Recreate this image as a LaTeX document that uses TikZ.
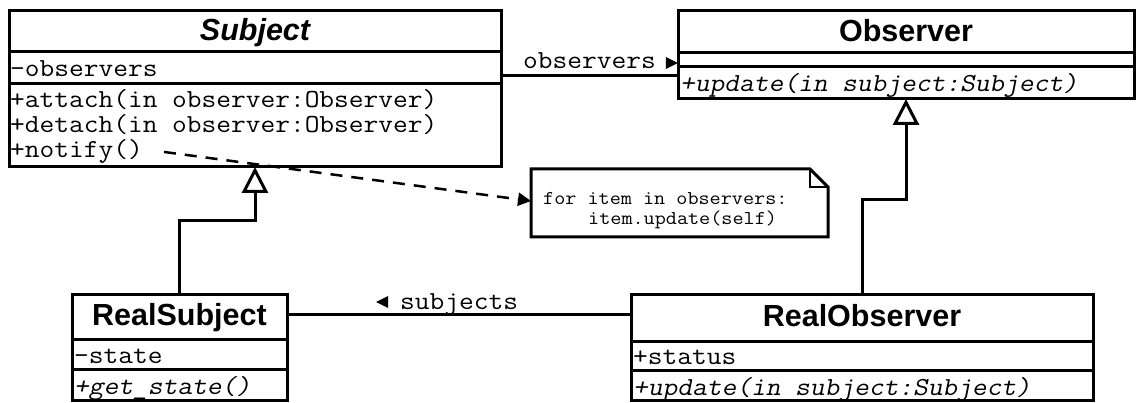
\documentclass[tikz,border=0pt]{standalone}
\usepackage{fontspec}
\setmainfont{Liberation Sans}
\newfontfamily\monofam{Latin Modern Mono}[FakeStretch=1.1, ItalicFont=*, ItalicFeatures={FakeSlant=0.2}]
\usetikzlibrary{arrows.meta}
\newcommand\memfont{\monofam\fontsize{26}{26}\selectfont}
\newcommand\memifont{\monofam\itshape\fontsize{26}{26}\selectfont}
\newcommand\notefont{\monofam\fontsize{19.6}{20}\selectfont}
\newcommand\ttlfont{\fontsize{30.5}{30.5}\selectfont\bfseries}
\begin{document}
\begin{tikzpicture}[x=1pt,y=-1pt,
  cls/.style={draw, line width=3pt, anchor=north west, inner sep=0pt, outer sep=0pt},
  ttl/.style={anchor=base, inner sep=0pt, font=\ttlfont},
  mem/.style={anchor=base west, inner sep=0pt, font=\memfont},
  memi/.style={anchor=base west, inner sep=0pt, font=\memifont},
  notemem/.style={anchor=base west, inner sep=0pt, font=\notefont},
  sep/.style={line width=3pt},
  conn/.style={line width=3pt},
  gen/.style={line width=3pt, -{Triangle[open, length=26pt, width=26pt]}},
  dep/.style={line width=2.5pt, dash pattern=on 12pt off 9pt, -{Triangle[length=13pt, width=13pt]}},
  ]
\useasboundingbox (0,0) rectangle (1137,403);

% Subject
\node[cls, minimum width=492pt, minimum height=156pt] (subject) at (9,11) {};
\draw[sep] (subject.west |- 0,52) -- (subject.east |- 0,52);
\draw[sep] (subject.west |- 0,84) -- (subject.east |- 0,84);
\node[ttl, font=\ttlfont\itshape] (subjectT) at (subject.north |- 0,41) {Subject};
\node[mem] (sattr) at (10,77) {-observers};
\node[mem] (sattach) at (10,108) {+attach(in observer:Observer)};
\node[mem] (sdetach) at (10,133) {+detach(in observer:Observer)};
\node[mem] (snotify) at (10,158) {+notify()};

% Observer
\node[cls, minimum width=456pt, minimum height=88pt] (observer) at (678,11) {};
\draw[sep] (observer.west |- 0,53) -- (observer.east |- 0,53);
\draw[sep] (observer.west |- 0,67) -- (observer.east |- 0,67);
\node[ttl] (observerT) at (observer.north |- 0,42) {Observer};
\node[memi] (oupdate) at (680,92) {+update(in subject:Subject)};

% RealSubject
\node[cls, minimum width=215pt, minimum height=106pt] (rs) at (72,294) {};
\draw[sep] (rs.west |- 0,339) -- (rs.east |- 0,339);
\draw[sep] (rs.west |- 0,369) -- (rs.east |- 0,369);
\node[ttl] (rsT) at (rs.north |- 0,325) {RealSubject};
\node[mem] (rsattr) at (74,363) {-state};
\node[memi] (rsget) at (74,394) {+get\_state()};

% RealObserver
\node[cls, minimum width=462pt, minimum height=106pt] (ro) at (631,294) {};
\draw[sep] (ro.west |- 0,341) -- (ro.east |- 0,341);
\draw[sep] (ro.west |- 0,370) -- (ro.east |- 0,370);
\node[ttl] (roT) at (ro.north |- 0,326) {RealObserver};
\node[mem] (rostatus) at (633,364) {+status};
\node[memi] (roupdate) at (633,395) {+update(in subject:Subject)};

% Note
\node[minimum width=297pt, minimum height=68pt, anchor=north west, inner sep=0pt, outer sep=0pt] (note) at (531,169) {};
\draw[line width=3pt] (note.north west) -- ([xshift=-18pt]note.north east) -- ([yshift=-18pt]note.north east) -- (note.south east) -- (note.south west) -- cycle;
\draw[line width=1.5pt] ([xshift=-18pt]note.north east) |- ([yshift=-18pt]note.north east);
\node[notemem] (n1) at (543,205) {for item in observers:};
\node[notemem] (n2) at (588,225) {item.update(self)};

% Associations
\draw[conn] (subject.east |- 0,76) -- (observer.west |- 0,76);
\node[mem] (obsl) at (523,69) {observers};
\fill ([shift={(10pt,12pt)}]obsl.base east) -- ([shift={(22pt,6pt)}]obsl.base east) -- ([shift={(10pt,0pt)}]obsl.base east) -- cycle;

\draw[conn] (rs.east |- 0,314) -- (ro.west |- 0,314);
\node[mem] (subl) at (400,309) {subjects};
\fill ([shift={(-12pt,13pt)}]subl.base west) -- ([shift={(-24pt,7pt)}]subl.base west) -- ([shift={(-12pt,1pt)}]subl.base west) -- cycle;

% Dependency (dashed)
\draw[dep] ([xshift=21pt]snotify.east) -- ([yshift=2pt]note.west);

% Generalizations
\draw[gen] (rs.north) -- (rs.north |- 0,221) -| (subject.south);
\draw[gen] (ro.north) -- (ro.north |- 0,200) -| (observer.south);
\end{tikzpicture}
\end{document}
